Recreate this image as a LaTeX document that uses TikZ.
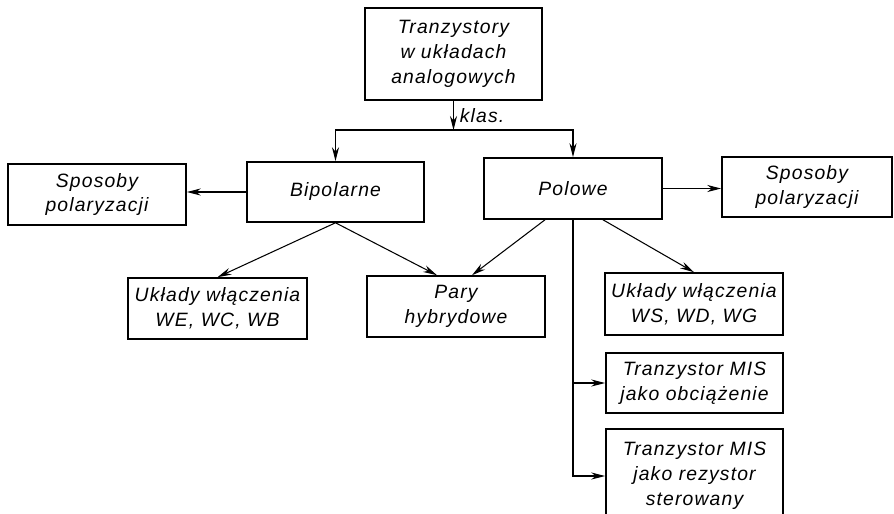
\documentclass[tikz,border=0pt]{standalone}
\usepackage{fontspec}
\setmainfont{Liberation Sans}[LetterSpace=6]
\usepackage{tikz}
\usetikzlibrary{arrows.meta, calc}

\tikzset{
  blok/.style={draw, line width=0.9pt, align=center, inner sep=0pt,
    font=\itshape\fontsize{11}{14.2}\selectfont},
  strz/.style={-{Stealth[length=2.8mm, width=1.4mm]}, line width=0.6pt}
}

\begin{document}
\begin{tikzpicture}[x=0.02cm, y=-0.02cm]
        \useasboundingbox (0,0) rectangle (894,514);

        \node[blok, minimum width=3.54cm, minimum height=1.84cm] (top) at (453.5,54) {Tranzystory\\w układach\\analogowych};
        \coordinate (split) at (453.5,130);

        \node[blok, minimum width=3.54cm, minimum height=1.2cm] (bip) at (335.5,192) {Bipolarne};
        \node[blok, minimum width=3.56cm, minimum height=1.22cm] (pol) at (573,188.5) {Polowe};
        \node[blok, minimum width=3.56cm, minimum height=1.22cm] (spl) at (97,194.5) {Sposoby\\polaryzacji};
        \node[blok, minimum width=3.4cm, minimum height=1.2cm] (spr) at (807,187) {Sposoby\\polaryzacji};

        \node[blok, minimum width=3.58cm, minimum height=1.22cm] (ukl) at (217.5,308.5) {Układy włączenia\\WE, WC, WB};
        \node[blok, minimum width=3.56cm, minimum height=1.22cm] (pary) at (456,306.5) {Pary\\hybrydowe};
        \node[blok, minimum width=3.56cm, minimum height=1.24cm] (ukp) at (694,304) {Układy włączenia\\WS, WD, WG};
        \node[blok, minimum width=3.54cm, minimum height=1.2cm] (mis1) at (694.5,383) {Tranzystor MIS\\jako obciążenie};
        \node[blok, minimum width=3.54cm, minimum height=1.88cm] (mis2) at (694.5,476) {Tranzystor MIS\\jako rezystor\\sterowany};

        \draw[strz] (top) -- node[right, font=\itshape\fontsize{11}{14.2}\selectfont] {klas.} (split);
        \draw[strz] (split) -| (bip.north);
        \draw[strz] (split) -| (pol.north);

        \draw[strz] (bip.west) -- (spl.east |- bip.west);
        \draw[strz] (pol.east) -- (spr.west |- pol.east);

        \draw[strz] (bip.south) -- (ukl.north);
        \draw[strz] (bip.south) -- ([xshift=-0.38cm]pary.north);
        \draw[strz] ([xshift=-0.56cm]pol.south) -- ([xshift=0.32cm]pary.north);
        \draw[strz] ([xshift=0.6cm]pol.south) -- (ukp.north);

        \draw[strz] (pol.south) |- (mis2.west);
        \draw[strz] (pol.south |- mis1.west) -- (mis1.west);

\end{tikzpicture}
\end{document}
